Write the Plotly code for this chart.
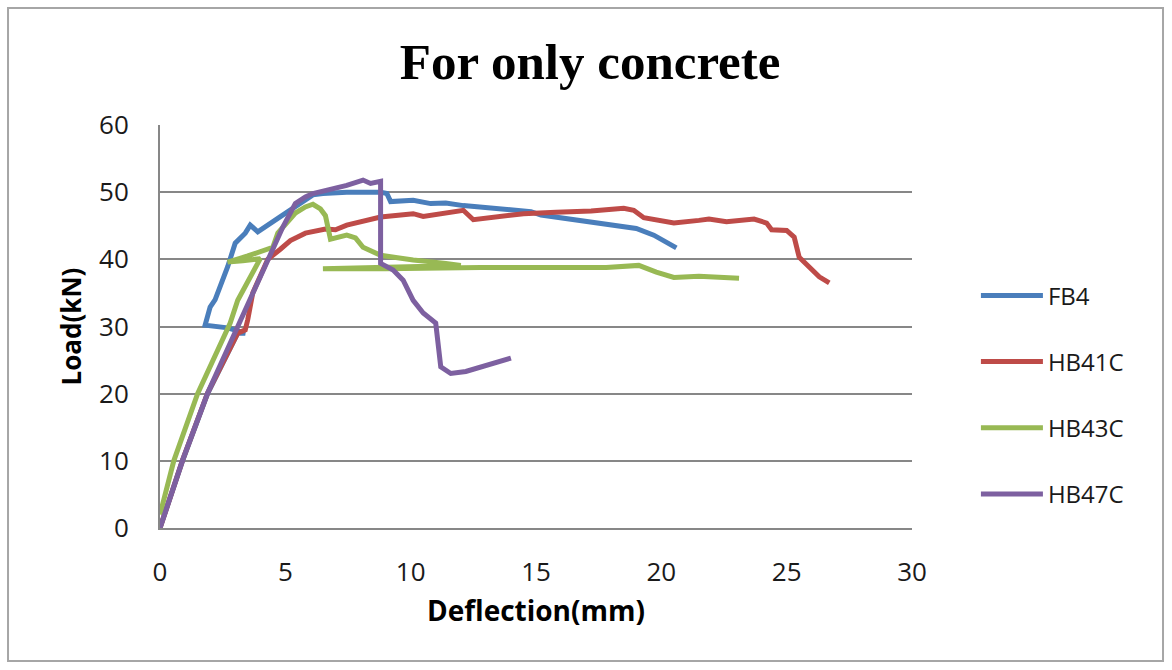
import plotly.graph_objects as go

# ---- data ----
fb4_x = [0, 0.9, 1.9, 3.1, 3.4, 2.7, 1.8, 2.0, 2.2, 2.7, 3.0, 3.4, 3.6, 3.9, 4.7, 5.4, 6.1, 6.5,
         7.45, 8.8, 9.05, 9.2, 10.1, 10.8, 11.4, 12.1, 12.8, 14.8, 15.2, 17.8, 19.0, 19.7, 20.2, 20.6]
fb4_y = [0, 10, 20, 29.0, 29.0, 29.8, 30.2, 32.9, 34.0, 38.9, 42.4, 43.9, 45.1, 44.1, 46.1, 47.8, 49.6, 49.8,
         50.0, 50.0, 49.8, 48.6, 48.8, 48.3, 48.4, 48.0, 47.8, 47.1, 46.6, 45.3, 44.6, 43.6, 42.5, 41.7]

hb41c_x = [0, 0.9, 1.9, 3.1, 3.4, 3.5, 3.7, 4.3, 4.8, 5.2, 5.8, 6.6, 7.0, 7.45, 8.8, 10.1, 10.5, 11.4, 12.1,
           12.5, 13.4, 14.5, 15.8, 17.2, 18.5, 18.9, 19.3, 19.8, 20.5, 21.5, 21.9, 22.6, 23.7, 24.2,
           24.4, 25.0, 25.3, 25.5, 25.9, 26.3, 26.7]
hb41c_y = [0, 10.1, 20.1, 29.0, 29.5, 31.0, 35.0, 40.0, 41.5, 42.8, 43.9, 44.5, 44.4, 45.1, 46.3, 46.8, 46.4, 47.0, 47.3,
           45.9, 46.3, 46.8, 47.0, 47.2, 47.6, 47.3, 46.2, 45.9, 45.4, 45.8, 46.0, 45.6, 46.0, 45.4,
           44.4, 44.3, 43.3, 40.3, 38.9, 37.4, 36.5]

hb43c_x = [0, 0.55, 1.5, 2.5, 2.8, 3.1, 3.6, 4.0, 3.3, 2.7, 3.5, 4.5, 4.7, 5.4, 5.8, 6.1, 6.4, 6.6, 6.8,
           7.45, 7.8, 8.1, 8.8, 10.1, 11.4, 12.0, 6.5, 9.0, 12.8, 17.8, 19.1, 19.8, 20.5, 21.5, 23.1]
hb43c_y = [2.0, 10, 20, 28.3, 30.5, 33.9, 37.5, 40.1, 39.8, 39.6, 40.5, 41.8, 43.9, 46.9, 47.8, 48.2, 47.5, 46.5, 43.0,
           43.6, 43.2, 41.8, 40.6, 39.9, 39.4, 39.1, 38.6, 38.6, 38.8, 38.8, 39.1, 38.1, 37.3, 37.5, 37.2]

hb47c_x = [0, 0.9, 1.9, 3.1, 3.7, 4.3, 4.9, 5.4, 5.8, 6.1, 7.45, 8.1, 8.4, 8.8, 8.8, 9.3, 9.7, 10.1,
           10.5, 11.0, 11.2, 11.6, 12.2, 14.0]
hb47c_y = [0, 10.1, 20.1, 30.0, 35.0, 40.3, 44.8, 48.3, 49.3, 49.8, 51.0, 51.8, 51.3, 51.6, 39.4, 38.4, 36.9, 33.9,
           32.0, 30.5, 24.0, 23.0, 23.3, 25.3]

series_names = ["FB4", "HB41C", "HB43C", "HB47C"]
series_colors = ["#4A7EBB", "#BE4B48", "#98B954", "#7D60A0"]
x_ticks = [0, 5, 10, 15, 20, 25, 30]
y_ticks = [0, 10, 20, 30, 40, 50, 60]

fig = go.Figure()
for i, (name, xs, ys) in enumerate(zip(series_names,
                                       [fb4_x, hb41c_x, hb43c_x, hb47c_x],
                                       [fb4_y, hb41c_y, hb43c_y, hb47c_y])):
    fig.add_trace(go.Scatter(x=xs, y=ys, mode="lines", name=name,
                             legendgroup=name,
                             line=dict(color=series_colors[i], width=5)))

grid_col = "#878787"
txt_col = "#1a1a1a"
fig.update_layout(
    width=1172, height=670,
    margin=dict(l=160, r=260, t=125, b=142),
    paper_bgcolor="white", plot_bgcolor="white",
    title=dict(text="<b>For only concrete</b>", x=0.5035, xanchor="center",
               y=0.908, yanchor="middle",
               font=dict(family="Liberation Serif", size=51, color="black")),
    font=dict(family="Open Sans", color=txt_col),
    xaxis=dict(range=[0, 30], tickvals=x_ticks, showgrid=False, zeroline=False,
               showline=True, linecolor=grid_col, linewidth=2,
               ticks="", ticklabelstandoff=20,
               tickfont=dict(size=26, color=txt_col),
               title=dict(text="<b>Deflection(mm)</b>", standoff=13,
                          font=dict(size=28, color="black"))),
    yaxis=dict(range=[0, 60], tickvals=y_ticks, showgrid=True, gridcolor=grid_col,
               gridwidth=2, zeroline=False, showline=True, linecolor=grid_col,
               linewidth=2, ticks="", ticklabelstandoff=24,
               tickfont=dict(size=26, color=txt_col),
               title=dict(text="<b>Load(kN)</b>", standoff=10,
                          font=dict(size=26, color="black"))),
    legend=dict(x=1.085, xanchor="left", y=0.632, yanchor="top",
                font=dict(size=24, color=txt_col),
                tracegroupgap=32, itemwidth=62,
                bgcolor="rgba(0,0,0,0)"),
    shapes=[dict(type="rect", xref="paper", yref="paper",
                 x0=-0.2021, x1=1.3338, y0=-0.330, y1=1.2903,
                 line=dict(color="#A6A6A6", width=2), fillcolor="rgba(0,0,0,0)",
                 layer="below")],
)

fig.write_html("out.html")
